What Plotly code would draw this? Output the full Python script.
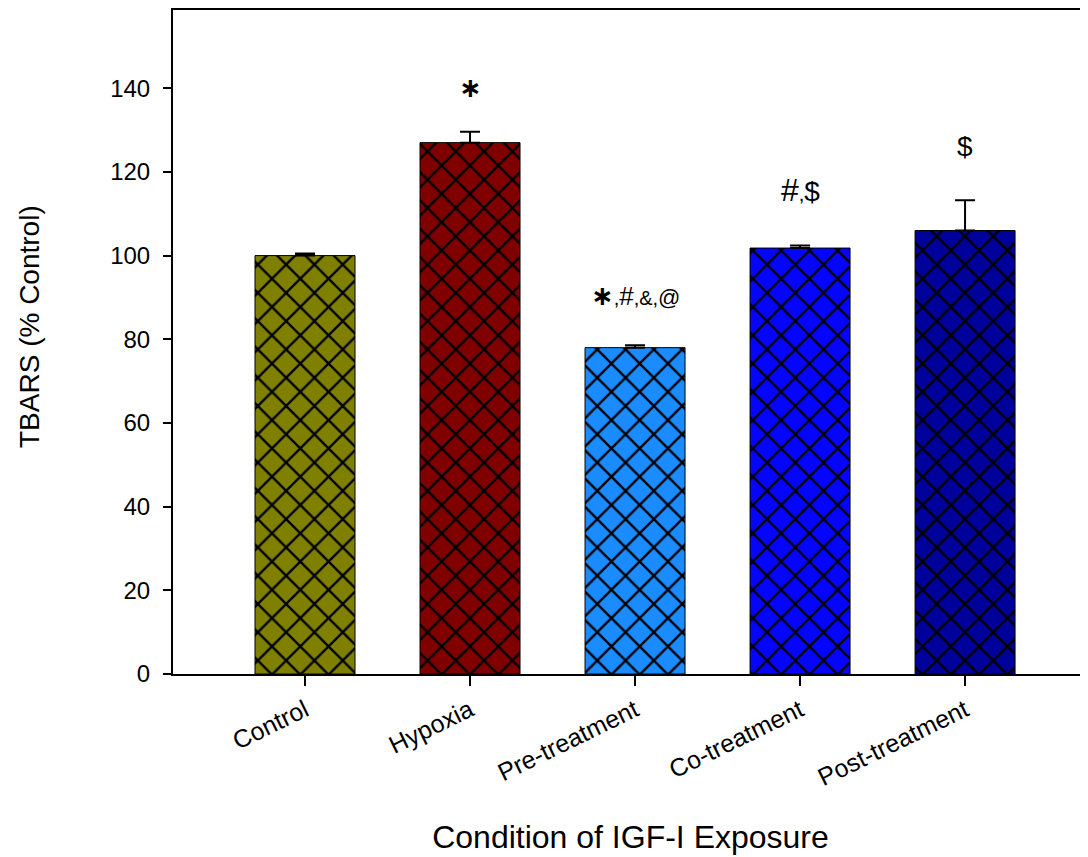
import plotly.graph_objects as go

categories = ["Control", "Hypoxia", "Pre-treatment", "Co-treatment", "Post-treatment"]
values = [100.0, 127.0, 78.0, 101.8, 106.0]
errors = [0.5, 2.6, 0.6, 0.6, 7.2]
colors = ["#808000", "#800000", "#1A8CFF", "#0505FF", "#00009A"]
AST = "<span style='font-family:DejaVu Sans;font-size:27px'><b>\u2217</b></span>"
sig_labels = [
    "",
    AST,
    AST + ",<span style='font-size:26px'>#</span>,&amp;,<span style='font-size:22px'>@</span>",
    "<span style='font-size:32px'>#</span>,<span style='font-size:28px'>$</span>",
    "<span style='font-size:28px'>$</span>",
]
y_ticks = [0, 20, 40, 60, 80, 100, 120, 140]

# label offsets above the error bar (pixels) – styling only
label_offsets = [36, 27, 32, 36, 36]

FONT = "Liberation Sans, Arial, sans-serif"

fig = go.Figure()
for cat, v, e, c in zip(categories, values, errors, colors):
    fig.add_trace(go.Bar(
        x=[cat],
        y=[v],
        width=0.606,
        marker=dict(
            color=c,
            line=dict(color="black", width=1),
            pattern=dict(shape="x", fillmode="replace", fgcolor="black", bgcolor=c,
                         fgopacity=1, size=20, solidity=0.22),
        ),
        error_y=dict(type="data", array=[e], arrayminus=[0], symmetric=False,
                     color="black", thickness=2, width=10),
        showlegend=False,
    ))

for cat, v, e, lab, off in zip(categories, values, errors, sig_labels, label_offsets):
    if lab:
        fig.add_annotation(x=cat, y=v + e, text=lab, showarrow=False, yanchor="bottom",
                           yshift=off, font=dict(family=FONT, size=20, color="black"))

fig.add_annotation(text="TBARS (% Control)", xref="paper", yref="paper", x=0, y=0.5226,
                   xshift=-143, xanchor="center", yanchor="middle", textangle=-90,
                   showarrow=False, font=dict(family=FONT, size=28, color="black"))

fig.update_layout(
    width=1080, height=849,
    margin=dict(l=165, r=0, t=2, b=183),
    paper_bgcolor="white", plot_bgcolor="white",
    font=dict(family=FONT, color="black"),
    barmode="overlay",
)
fig.update_xaxes(
    range=[-0.8, 4.745],
    categoryorder="array", categoryarray=categories,
    showline=True, linecolor="black", linewidth=2, mirror=True,
    ticks="outside", ticklen=10, tickwidth=1.5, tickcolor="black",
    tickangle=-26, tickfont=dict(size=25, family=FONT),
    title=dict(text="Condition of IGF-I Exposure", font=dict(size=32, family=FONT), standoff=35),
    showgrid=False,
)
fig.update_yaxes(
    range=[0, 158.7],
    tickvals=y_ticks,
    showline=True, linecolor="black", linewidth=2,
    ticks="outside", ticklen=8, tickwidth=1.5, tickcolor="black",
    ticklabelstandoff=8,
    tickfont=dict(size=24, family=FONT),
    showgrid=False, zeroline=False,
)

fig.write_html("out.html")
